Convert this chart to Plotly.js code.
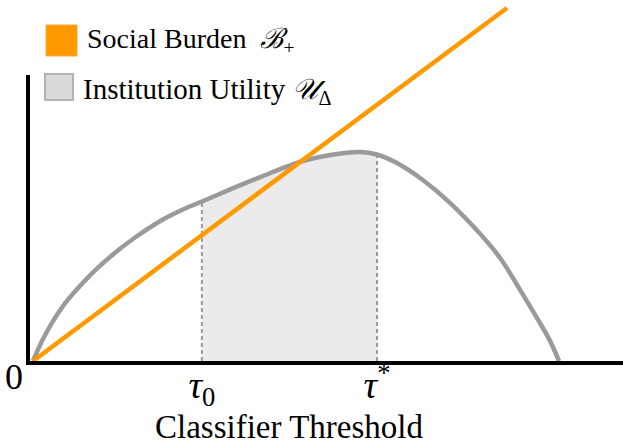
<!DOCTYPE html>
<html>
<head>
<meta charset="utf-8">
<script src="https://cdn.plot.ly/plotly-3.0.1.min.js"></script>
<style>
  html, body { margin: 0; padding: 0; background: #fff; }
  #chart { width: 623px; height: 444px; }
</style>
</head>
<body>
<div id="chart"></div>
<script>
// classifier threshold (0 = left end, 1 = where utility returns to zero)
const thresholdX = [0, 0.019, 0.038, 0.057, 0.084, 0.122, 0.16, 0.198, 0.247, 0.285, 0.321, 0.375,
  0.432, 0.513, 0.565, 0.622, 0.654, 0.692, 0.741, 0.787, 0.84, 0.888, 0.926, 0.958, 0.983, 1.0];
const utilityY = [0, 0.105, 0.191, 0.263, 0.344, 0.443, 0.526, 0.598, 0.677, 0.725, 0.763, 0.821,
  0.88, 0.957, 0.986, 1.0, 0.988, 0.947, 0.866, 0.77, 0.636, 0.493, 0.34, 0.206, 0.096, 0];
const burdenX = [0, 0.901];
const burdenY = [0, 1.689];
const tau0 = 0.321;
const tauStar = 0.654;
const tickLabels = ["<i>τ</i><sub>0</sub>", "<i>τ</i><sup>*</sup>"];
const legendLabels = ["Social Burden  <i>ℬ</i><sub>+</sub>", "Institution Utility <i>𝒰</i><sub>Δ</sub>"];

function chart() {
  const el = document.getElementById("chart");
  const W = 623, H = 444;
  const m = { l: 30, r: 0, t: 0, b: 83 };
  const pw = W - m.l - m.r, ph = H - m.t - m.b;
  const px = (x) => (x - m.l) / pw;
  const py = (y) => (H - m.b - y) / ph;

  const serif = "Liberation Serif, Times New Roman, serif";
  const grey = "#9a9a9a";
  const orange = "#ff9900";

  const uAt = (t) => utilityY[thresholdX.indexOf(t)];
  const shadeX = thresholdX.filter((x) => x >= tau0 && x <= tauStar);
  const shadeY = shadeX.map((x) => uAt(x));

  const traces = [
    {
      x: shadeX, y: shadeY, mode: "lines", fill: "tozeroy", fillcolor: "#ebebeb",
      line: { width: 0, shape: "spline", smoothing: 1 }, showlegend: false
    },
    {
      x: [tau0, tau0], y: [0, uAt(tau0)], mode: "lines",
      line: { color: grey, width: 2, dash: "4px,3px" }, showlegend: false
    },
    {
      x: [tauStar, tauStar], y: [0, uAt(tauStar)], mode: "lines",
      line: { color: grey, width: 2, dash: "4px,3px" }, showlegend: false
    },
    {
      x: thresholdX, y: utilityY, mode: "lines",
      line: { color: grey, width: 4.5, shape: "spline", smoothing: 1 }, showlegend: false
    },
    {
      x: burdenX, y: burdenY, mode: "lines",
      line: { color: orange, width: 4.5 }, showlegend: false
    }
  ];

  const layout = {
    width: W, height: H, margin: m,
    paper_bgcolor: "#fff", plot_bgcolor: "#fff",
    showlegend: false, hovermode: false,
    font: { family: serif, color: "#000" },
    xaxis: {
      range: [(m.l - 33) / 526, (W - 33) / 526],
      showgrid: false, zeroline: false,
      showline: true, linecolor: "#000", linewidth: 4,
      tickvals: [tau0, tauStar], ticktext: tickLabels,
      ticks: "", tickfont: { size: 38, family: serif }, ticklabelstandoff: -13
    },
    yaxis: {
      range: [0, ph / 209],
      showgrid: false, zeroline: false, showline: false, showticklabels: false, ticks: ""
    },
    shapes: [
      { type: "line", xref: "paper", yref: "paper", x0: px(28), x1: px(28), y0: py(365), y1: py(75),
        line: { color: "#000", width: 4 } },
      { type: "rect", xref: "paper", yref: "paper", x0: px(46), x1: px(77), y0: py(56), y1: py(25),
        fillcolor: orange, line: { color: "#ffa733", width: 1 } },
      { type: "rect", xref: "paper", yref: "paper", x0: px(45), x1: px(73), y0: py(100), y1: py(74),
        fillcolor: "#d9d9d9", line: { color: "#b3b3b3", width: 2 } }
    ],
    annotations: [
      { text: legendLabels[0], xref: "paper", yref: "paper", x: px(85), y: py(40),
        xanchor: "left", yanchor: "middle", showarrow: false, font: { size: 28 } },
      { text: legendLabels[1], xref: "paper", yref: "paper", x: px(81), y: py(91),
        xanchor: "left", yanchor: "middle", showarrow: false, font: { size: 29 } },
      { text: "0", xref: "paper", yref: "paper", x: px(14), y: py(377),
        xanchor: "center", yanchor: "middle", showarrow: false, font: { size: 36 } },
      { text: "Classifier Threshold", xref: "paper", yref: "paper", x: px(289), y: py(427),
        xanchor: "center", yanchor: "middle", showarrow: false, font: { size: 33 } }
    ]
  };

  Plotly.newPlot(el, traces, layout, { displayModeBar: false, staticPlot: true });
}

window.addEventListener("load", chart);
</script>
</body>
</html>
